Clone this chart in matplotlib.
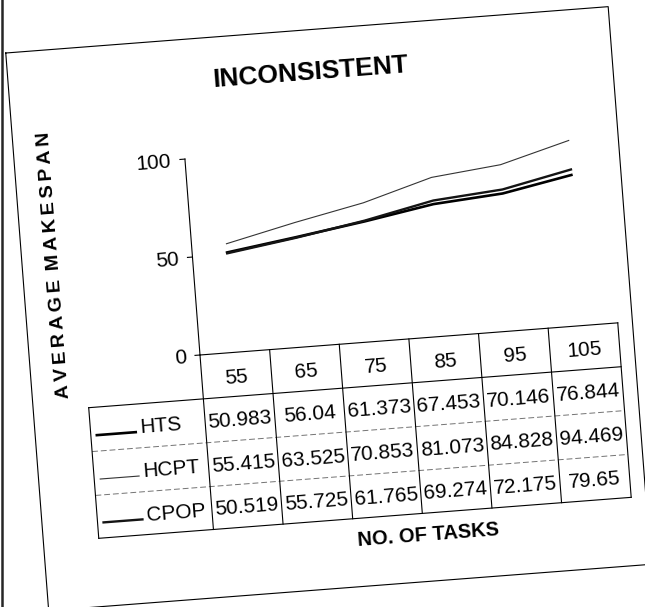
import matplotlib.pyplot as plt
from matplotlib.lines import Line2D
from matplotlib.transforms import Affine2D

# average makespan against number of tasks
tasks = ['55', '65', '75', '85', '95', '105']
names = ['HTS', 'HCPT', 'CPOP']
hts = [50.983, 56.04, 61.373, 67.453, 70.146, 76.844]
hcpt = [55.415, 63.525, 70.853, 81.073, 84.828, 94.469]
cpop = [50.519, 55.725, 61.765, 69.274, 72.175, 79.65]
yticks = [0, 50, 100]

plt.rcParams['font.family'] = ['Liberation Sans', 'DejaVu Sans']
fs = 15  # table and tick text size

W, H = 645, 607
fig = plt.figure(figsize=(W / 100, H / 100), dpi=100)

ox, oy = 200, 252      # plot origin, pixels
pw, ph = 419, 196.5    # plot size, pixels
tilt = 4.4             # the printed page sits a little crooked
rot = Affine2D().rotate_deg_around(ox, oy, tilt)

ax = fig.add_axes([ox / W, oy / H, pw / W, ph / H])
ax.set_xlim(-0.5, len(tasks) - 0.5)
ax.set_ylim(0, 100)
ax.axis('off')

# page axes in pixels measured from the plot origin
pg = fig.add_axes([0, 0, 1, 1], zorder=-1)
pg.set_xlim(-ox, W - ox)
pg.set_ylim(-oy, H - oy)
pg.axis('off')
pt = pg.transData + rot

styles = {'HTS': ('black', 1.9), 'HCPT': ('0.2', 0.8), 'CPOP': ('0.08', 1.7)}
series = [hts, hcpt, cpop]

for name, vals in zip(names, series):
    c, lw = styles[name]
    ax.plot(range(len(tasks)), vals, color=c, lw=lw,
            transform=ax.transData + rot, clip_on=False)

# value axis
ya = ax.get_yaxis_transform() + rot
ax.plot([0, 0], [0, 100], color='k', lw=0.8, transform=ya, clip_on=False)
for t in yticks:
    ax.plot([-5 / pw, 0], [t, t], color='k', lw=0.8, transform=ya, clip_on=False)
    ax.text(-14 / pw, t, str(t), transform=ya, ha='right', va='center_baseline',
            rotation=tilt, rotation_mode='anchor', fontsize=fs)


def seg(x, y, **kw):
    pg.plot(x, y, transform=pt, clip_on=False, **kw)


def label(x, y, s, rotation=tilt, **kw):
    pg.text(x, y, s, transform=pt, rotation=rotation, rotation_mode='anchor',
            ha=kw.pop('ha', 'center'), va='center_baseline', **kw)


# data table under the plot
cw = pw / len(tasks)
rows = [0, -44, -88, -132, -175]
left = -115
seg([0, pw], [0, 0], color='k', lw=0.8)
seg([left, pw], [rows[1]] * 2, color='k', lw=0.8)
for r in rows[2:4]:
    seg([left, pw], [r, r], color='0.45', lw=0.7, ls=(0, (6, 3)))
seg([left, pw], [rows[4]] * 2, color='k', lw=0.8)
seg([left, left], [rows[1], rows[4]], color='k', lw=0.8)
for i in range(len(tasks) + 1):
    seg([i * cw, i * cw], [0, rows[4]], color='k', lw=0.8)

for i, t in enumerate(tasks):
    label((i + 0.5) * cw, rows[1] / 2 - 1, t, fontsize=fs)

for j, (name, vals) in enumerate(zip(names, series)):
    yc = (rows[j + 1] + rows[j + 2]) / 2
    c, lw = styles[name]
    seg([left + 6, left + 45], [yc - 6, yc - 6], color=c, lw=lw)
    label(left + 49, yc, name, ha='left', fontsize=fs)
    for i, v in enumerate(vals):
        label((i + 0.5) * cw, yc, f'{v:g}', fontsize=fs)

# titles
label(132, 276, 'INCONSISTENT', fontsize=19, weight='bold')
label(214, -195, 'NO. OF TASKS', fontsize=14.5, weight='bold')
ylab = '\u2009'.join('AVERAGE') + ' \u2009' + '\u2009'.join('MAKESPAN')
label(-140.5, 101, ylab, rotation=90 + tilt, fontsize=14, weight='bold')

# outer frame
fx = [-170.5, 433.7, 433.7, -170.5, -170.5]
fy = [316, 316, -243.3, -243.3, 316]
seg(fx, fy, color='k', lw=0.8)

# dark edge at the left side of the sheet
fig.add_artist(Line2D([1.5 / W] * 2, [0, 1], color='0.15', lw=1.8))

fig.savefig('out.png', dpi=100)
